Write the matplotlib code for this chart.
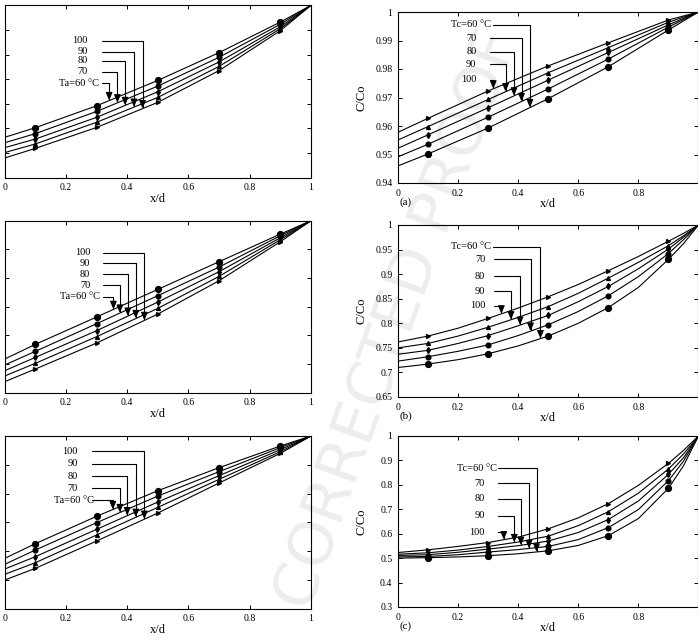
import numpy as np
import matplotlib.pyplot as plt
from matplotlib.ticker import FormatStrFormatter

plt.rcParams['font.family'] = ['Liberation Serif', 'DejaVu Serif']

# temperatures of the five curves (60 = big circles)
temps = [60, 70, 80, 90, 100]
x_coarse = np.array([0, 0.1, 0.3, 0.5, 0.7, 0.9, 1.0])
x_fine = np.array([0, 0.1, 0.2, 0.3, 0.4, 0.5, 0.6, 0.7, 0.8, 0.9, 0.95, 1.0])
x_marks = [0.1, 0.3, 0.5, 0.7, 0.9]

# left column (Ta varied), rows are 60,70,80,90,100
ta1 = [[.9464, .9503, .9592, .9695, .9808, .9932, 1],
       [.9442, .9479, .9569, .9672, .9789, .9923, 1],
       [.9422, .9457, .9545, .9649, .9770, .9913, 1],
       [.9402, .9437, .9525, .9626, .9752, .9905, 1],
       [.9380, .9419, .9504, .9606, .9735, .9897, 1]]
ta2 = [[.7587, .7843, .8320, .8802, .9285, .9767, 1],
       [.7483, .7721, .8203, .8692, .9192, .9738, 1],
       [.7384, .7616, .8081, .8581, .9111, .9703, 1],
       [.7291, .7512, .7977, .8471, .9029, .9669, 1],
       [.7192, .7413, .7866, .8372, .8953, .9634, 1]]
ta3 = [[.5749, .6259, .7209, .8100, .8900, .9653, 1],
       [.5541, .6039, .6988, .7915, .8761, .9595, 1],
       [.5378, .5807, .6757, .7707, .8622, .9525, 1],
       [.5193, .5598, .6560, .7521, .8494, .9456, 1],
       [.4996, .5402, .6351, .7324, .8367, .9398, 1]]

# right column (Tc varied)
tc_a = [[.9460, .9502, .9593, .9696, .9808, .9937, 1],
        [.9492, .9536, .9631, .9730, .9835, .9947, 1],
        [.9522, .9569, .9664, .9761, .9858, .9955, 1],
        [.9551, .9598, .9693, .9787, .9875, .9964, 1],
        [.9578, .9627, .9723, .9811, .9892, .9972, 1]]
tc_b = [[.710, .717, .726, .738, .754, .774, .800, .832, .873, .930, .962, 1],
        [.723, .732, .743, .756, .775, .797, .824, .856, .895, .942, .970, 1],
        [.737, .745, .759, .775, .795, .816, .844, .875, .911, .951, .975, 1],
        [.750, .759, .774, .792, .812, .834, .861, .892, .924, .958, .978, 1],
        [.762, .774, .790, .810, .831, .854, .879, .907, .936, .967, .983, 1]]
tc_c = [[.500, .502, .505, .510, .518, .530, .552, .592, .662, .786, .878, 1],
        [.505, .507, .514, .525, .535, .548, .576, .625, .699, .817, .897, 1],
        [.511, .514, .524, .537, .551, .570, .605, .658, .734, .843, .911, 1],
        [.516, .522, .533, .548, .566, .590, .633, .690, .766, .865, .926, 1],
        [.523, .534, .548, .564, .586, .620, .665, .723, .798, .888, .941, 1]]

markers = ['o', 'o', 'd', '^', '>']
msizes = [4.2, 3.4, 3.0, 2.8, 2.8]

W, H = 698, 641
fig = plt.figure(figsize=(W / 100, H / 100), dpi=100)

# watermark behind everything
fig.text(0.57, 0.5, 'CORRECTED PROOF', rotation=70, fontsize=44,
         family='DejaVu Sans', color='#ededed', ha='center', va='center', zorder=-5)


def box(l, t, r, b):
    return [l / W, 1 - b / H, (r - l) / W, (b - t) / H]


def draw(rect, x, curves, ylim, ystep, labels, left_side):
    ax = fig.add_axes(rect)
    ax.set_facecolor('none')
    for i, T in enumerate(temps):
        y = np.array(curves[i])
        ax.plot(x, y, 'k-', lw=0.8)
        m = np.isin(x, x_marks)
        ax.plot(x[m], y[m], ls='none', marker=markers[i], ms=msizes[i], color='k')
    ax.set_xlim(0, 1)
    ax.set_ylim(*ylim)
    ax.set_xticks([0, 0.2, 0.4, 0.6, 0.8, 1.0])
    ax.set_yticks(np.arange(ylim[0], ylim[1] + ystep / 2, ystep))
    ax.tick_params(direction='in', top=True, right=True, length=3, width=0.7,
                   labelsize=7, pad=4)
    ax.xaxis.set_major_formatter(FormatStrFormatter('%g'))
    ax.yaxis.set_major_formatter(FormatStrFormatter('%g'))
    if left_side:
        ax.set_yticklabels([])
    else:
        ax.set_xticklabels(['0', '0.2', '0.4', '0.6', '0.8', ''])
        ax.set_ylabel('C/Co', fontsize=9)
        ax.yaxis.set_label_coords(-0.1, 0.5)
    ax.set_xlabel('x/d', fontsize=9, labelpad=0.5)
    for s in ax.spines.values():
        s.set_linewidth(0.8)
    # bracket arrows: (text, temp, text x, text y, line start x, corner x)
    for txt, T, tx, ty, sx, cx in labels:
        y = np.array(curves[temps.index(T)])
        tip = np.interp(cx, x, y)
        ax.text(tx, ty, txt, transform=ax.transAxes, ha='right', va='center', fontsize=7.5)
        ax.annotate('', xy=(cx, tip), xycoords='data', xytext=(sx, ty),
                    textcoords='axes fraction',
                    arrowprops=dict(arrowstyle='-|>,head_length=0.6,head_width=0.25',
                                    connectionstyle='angle,angleA=0,angleB=90,rad=0',
                                    shrinkA=0, shrinkB=0, lw=0.8, color='k',
                                    mutation_scale=8))
    return ax


draw(box(4.7, 5.3, 311, 177.7), x_coarse, ta1, (0.93, 1.0), 0.01,
     [('100', 100, .272, .795, .317, .450), ('90', 90, .272, .731, .317, .422),
      ('80', 80, .272, .677, .317, .393), ('70', 70, .272, .615, .317, .368),
      ('Ta=60 °C', 60, .307, .547, .317, .341)], True)
draw(box(4.7, 220.7, 311, 392.7), x_coarse, ta2, (0.7, 1.0), 0.05,
     [('100', 100, .279, .814, .322, .456), ('90', 90, .279, .752, .322, .428),
      ('80', 80, .279, .690, .322, .402), ('70', 70, .279, .626, .322, .376),
      ('Ta=60 °C', 60, .311, .558, .322, .355)], True)
draw(box(4.7, 436, 311, 608.7), x_coarse, ta3, (0.4, 1.0), 0.1,
     [('100', 100, .238, .913, .286, .456), ('90', 90, .238, .840, .286, .428),
      ('80', 80, .238, .768, .286, .400), ('70', 70, .238, .697, .286, .376),
      ('Ta=60 °C', 60, .292, .629, .286, .353)], True)

ax_a = draw(box(398, 12, 698.5, 183), x_coarse, tc_a, (0.94, 1.0), 0.01,
            [('Tc=60 °C', 60, .311, .924, .317, .439), ('70', 70, .261, .846, .306, .411),
             ('80', 80, .261, .768, .306, .386), ('90', 90, .261, .693, .306, .358),
             ('100', 100, .261, .605, .306, .317)], False)
ax_b = draw(box(398, 225, 698.5, 397), x_fine, tc_b, (0.65, 1.0), 0.05,
            [('Tc=60 °C', 60, .311, .874, .317, .474), ('70', 70, .290, .800, .319, .441),
             ('80', 80, .290, .703, .319, .406), ('90', 90, .290, .616, .319, .376),
             ('100', 100, .290, .530, .319, .344)], False)
ax_c = draw(box(398, 436, 698.5, 607), x_fine, tc_c, (0.3, 1.0), 0.1,
            [('Tc=60 °C', 60, .328, .811, .333, .461), ('70', 70, .289, .724, .333, .436),
             ('80', 80, .289, .632, .333, .409), ('90', 90, .289, .533, .333, .387),
             ('100', 100, .289, .438, .333, .352)], False)

for ax, lab in [(ax_a, '(a)'), (ax_b, '(b)'), (ax_c, '(c)')]:
    ax.text(0.005, -0.11, lab, transform=ax.transAxes, ha='left', va='center', fontsize=8)

fig.savefig('out.png', dpi=100)
